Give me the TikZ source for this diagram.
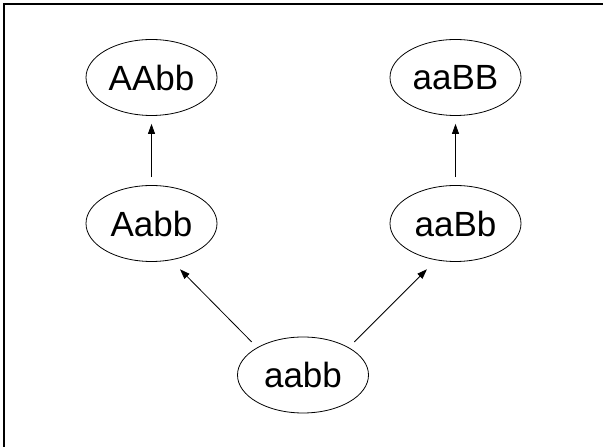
\documentclass[tikz,border=0pt]{standalone}
\usepackage{fontspec}
\setmainfont{Liberation Sans}
\usetikzlibrary{arrows.meta,shapes.geometric}

\begin{document}
\begin{tikzpicture}[x=1pt, y=1pt,
    geno/.style={ellipse, draw, line width=0.8pt, minimum width=131pt, minimum height=76pt, inner sep=0pt, font=\fontsize{35}{35}\selectfont},
    cross/.style={-{Triangle[length=10pt,width=7pt]}, line width=0.8pt}]
    % Frame (only top and left edges fall inside the page)
    \useasboundingbox (0,0) rectangle (603,447);
    \draw[line width=1.7pt] (4,-20) rectangle (630,443);

    % Nodes
    \node[geno] (AAbb) at (151.5,369.5) {AAbb};
    \node[geno] (aaBB) at (455.5,369.5) {aaBB};
    \node[geno] (Aabb) at (151.5,223.5) {Aabb};
    \node[geno] (aaBb) at (455.5,223.5) {aaBb};
    \node[geno] (aabb) at (303,72) {aabb};

    % Edges
    \draw[cross, shorten <=8pt, shorten >=8pt] (Aabb.north) -- (AAbb.south);
    \draw[cross, shorten <=8pt, shorten >=8pt] (aaBb.north) -- (aaBB.south);
    \draw[cross, shorten <=7.7pt, shorten >=12.8pt] (aabb.149) -- (Aabb.-62);
    \draw[cross, shorten <=7.7pt, shorten >=12.8pt] (aabb.31) -- (aaBb.-118);
\end{tikzpicture}
\end{document}
